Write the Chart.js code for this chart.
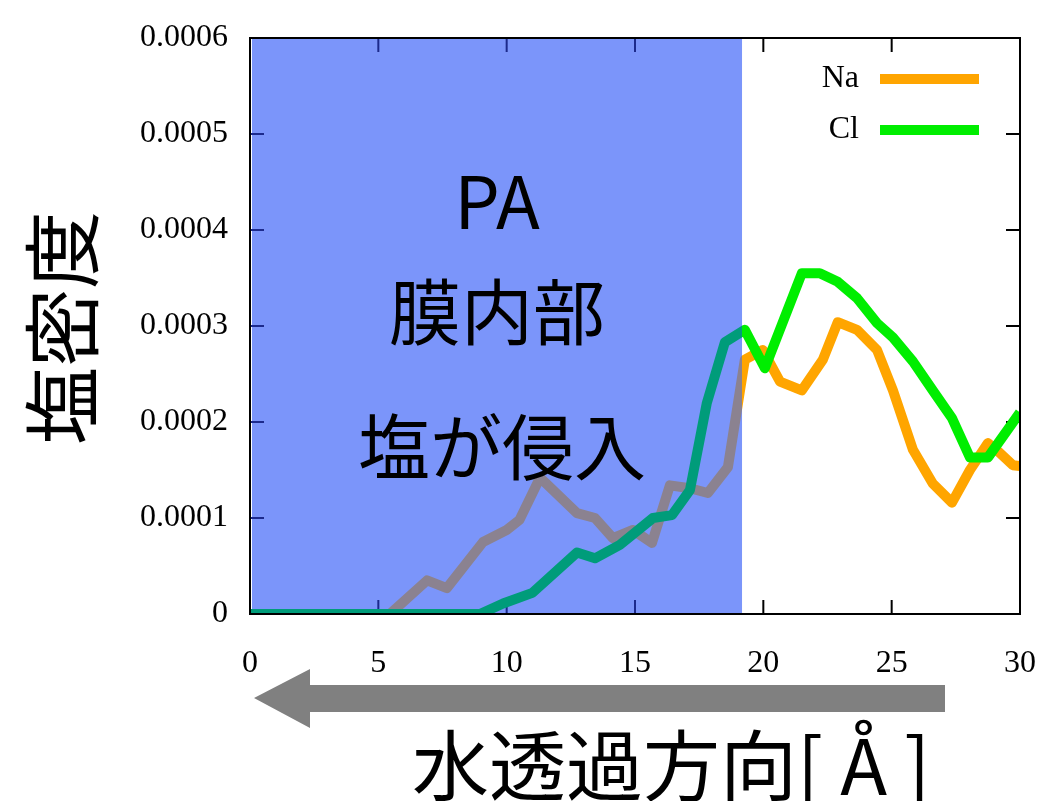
<!DOCTYPE html>
<html><head><meta charset="utf-8">
<script src="https://cdn.jsdelivr.net/npm/chart.js@4/dist/chart.umd.min.js"></script>
<style>html,body{margin:0;padding:0;background:#fff}#wrap{width:1042px;height:801px;position:relative}</style>
</head><body><div id="wrap"><canvas id="c"></canvas></div>
<script>
// ---- data ----
const seriesLabels = ['Na', 'Cl'];
const naX = [0, 5.45, 6.9, 7.67, 9.08, 10.0, 10.5, 11.3, 12.74, 13.44, 14.14, 14.92, 15.66, 16.36, 17.14, 17.84, 18.62, 19.28, 19.98, 20.65, 21.5, 22.32, 22.9, 23.65, 24.43, 25.05, 25.83, 26.6, 27.35, 28.05, 28.75, 29.2, 29.72, 30];
const naY = [0, 0, 0.000035, 0.000027, 0.000075, 0.0000875, 0.000098, 0.000142, 0.000105, 0.0001, 0.000079, 0.0000875, 0.000074, 0.000134, 0.000131, 0.000126, 0.000153, 0.000265, 0.000275, 0.000242, 0.000233, 0.000265, 0.000304, 0.000296, 0.000275, 0.000233, 0.000171, 0.000136, 0.000116, 0.00015, 0.000178, 0.000168, 0.000155, 0.000154];
const clX = [0, 8.96, 9.86, 11.0, 12.74, 13.44, 14.41, 15.7, 16.44, 17.14, 17.8, 18.5, 19.28, 20.06, 21.5, 22.2, 22.9, 23.65, 24.43, 25.05, 25.83, 26.6, 27.35, 28.05, 28.75, 30];
const clY = [0, 0, 0.000011, 0.000022, 0.000064, 0.000058, 0.000072, 0.0001, 0.000103, 0.000129, 0.00022, 0.000283, 0.000296, 0.000256, 0.000355, 0.000355, 0.000346, 0.000329, 0.000303, 0.000288, 0.000263, 0.000233, 0.000204, 0.000163, 0.000163, 0.00021];
const xTickValues = [0, 5, 10, 15, 20, 25, 30];
const xTickLabels = ['0', '5', '10', '15', '20', '25', '30'];
const yTickValues = [0, 0.0001, 0.0002, 0.0003, 0.0004, 0.0005, 0.0006];
const yTickLabels = ['0', '0.0001', '0.0002', '0.0003', '0.0004', '0.0005', '0.0006'];
const membraneEnd = 19.17;
const annotationLines = ['PA', '膜内部', '塩が侵入'];
const yTitle = '塩密度';
const xTitle = '水透過方向[ Å ]';

const SERIF = '"Liberation Serif","DejaVu Serif",serif';
const CJK = '"Noto Sans CJK JP","Noto Sans",sans-serif';
const colors = ['#ffa500', '#00ee00'];
const shadedColors = ['#8b8290', '#009c7a'];
const membraneFill = '#7b95fa';
const shadedTick = '#1c2a8c';

const toPts = (xs, ys) => xs.map((x, i) => ({x: x, y: ys[i]}));

function splitColor(chart, inside, outside) {
  const ca = chart.chartArea;
  const xs = chart.scales.x;
  if (!ca || !xs) return outside;
  const xe = xs.getPixelForValue(membraneEnd);
  const g = chart.ctx.createLinearGradient(0, 0, chart.width, 0);
  const f = Math.min(Math.max(xe / chart.width, 0), 1);
  g.addColorStop(0, inside); g.addColorStop(f, inside);
  g.addColorStop(f, outside); g.addColorStop(1, outside);
  return g;
}

const decor = {
  id: 'decor',
  beforeDatasetsDraw(chart) {
    const ctx = chart.ctx, ca = chart.chartArea, xs = chart.scales.x, ys = chart.scales.y;
    const xe = xs.getPixelForValue(membraneEnd);
    ctx.save();
    ctx.fillStyle = membraneFill;
    ctx.fillRect(ca.left + 2, ca.top, xe - ca.left - 2, ca.bottom - ca.top);
    ctx.lineWidth = 2;
    const ln = (a, b, c, d, col) => { ctx.strokeStyle = col; ctx.beginPath(); ctx.moveTo(a, b); ctx.lineTo(c, d); ctx.stroke(); };
    xTickValues.forEach(v => { const p = xs.getPixelForValue(v); const col = p < xe ? shadedTick : '#000';
      ln(p, ca.bottom, p, ca.bottom - 14, col); ln(p, ca.top, p, ca.top + 14, col); });
    yTickValues.forEach(v => { const p = ys.getPixelForValue(v); ln(ca.left, p, ca.left + 14, p, shadedTick); ln(ca.right, p, ca.right - 14, p, '#000'); });
    ctx.restore();
  },
  afterDatasetsDraw(chart) {
    const ctx = chart.ctx, ca = chart.chartArea;
    ctx.save();
    ctx.strokeStyle = '#000'; ctx.lineWidth = 2;
    ctx.strokeRect(ca.left, ca.top, ca.right - ca.left, ca.bottom - ca.top);
    ctx.restore();
  },
  afterDraw(chart) {
    const ctx = chart.ctx;
    ctx.save();
    ctx.fillStyle = '#000';
    ctx.textAlign = 'center';
    ctx.font = '72px ' + CJK;
    ctx.textBaseline = 'alphabetic';
    ctx.fillText(annotationLines[0], 497, 229);
    ctx.textBaseline = 'middle';
    ctx.fillText(annotationLines[1], 497, 312);
    ctx.fillText(annotationLines[2], 502, 447);
    // legend
    ctx.font = '32px ' + SERIF;
    ctx.textAlign = 'right';
    const ly = [79, 130];
    chart.data.datasets.forEach((ds, i) => {
      ctx.fillStyle = '#000';
      ctx.fillText(ds.label, 859, ly[i]);
      ctx.strokeStyle = colors[i]; ctx.lineWidth = 10;
      ctx.beginPath(); ctx.moveTo(880, ly[i]); ctx.lineTo(979, ly[i]); ctx.stroke();
    });
    // y title
    ctx.fillStyle = '#000';
    ctx.font = '78px ' + CJK;
    ctx.textAlign = 'center'; ctx.textBaseline = 'middle';
    ctx.save(); ctx.translate(62, 328); ctx.rotate(-Math.PI / 2); ctx.fillText(yTitle, 0, 0); ctx.restore();
    // arrow
    ctx.fillStyle = '#808080';
    ctx.beginPath();
    ctx.moveTo(945, 685); ctx.lineTo(310, 685); ctx.lineTo(310, 669); ctx.lineTo(254, 698);
    ctx.lineTo(310, 728); ctx.lineTo(310, 712); ctx.lineTo(945, 712); ctx.closePath(); ctx.fill();
    // x title
    ctx.fillStyle = '#000';
    ctx.font = '77px ' + CJK;
    ctx.textAlign = 'left'; ctx.textBaseline = 'middle';
    ctx.fillText(xTitle, 412, 766);
    ctx.restore();
  }
};

function build() {
  new Chart(document.getElementById('c'), {
    type: 'line',
    data: {
      datasets: [
        {label: seriesLabels[0], data: toPts(naX, naY), borderColor: c => splitColor(c.chart, shadedColors[0], colors[0]), borderWidth: 10, pointRadius: 0, fill: false, tension: 0, borderJoinStyle: 'round', order: 2},
        {label: seriesLabels[1], data: toPts(clX, clY), borderColor: c => splitColor(c.chart, shadedColors[1], colors[1]), borderWidth: 10, pointRadius: 0, fill: false, tension: 0, borderJoinStyle: 'round', order: 1}
      ]
    },
    options: {
      responsive: true, maintainAspectRatio: false, animation: false,
      layout: {padding: {top: 38, right: 22, bottom: 0, left: 0}},
      plugins: {legend: {display: false}, tooltip: {enabled: false}},
      scales: {
        x: {
          type: 'linear', min: 0, max: 30,
          afterBuildTicks: s => { s.ticks = xTickValues.map(v => ({value: v})); },
          afterFit: s => { s.height = 187; s.paddingLeft = 0; s.paddingRight = 0; },
          grid: {display: false, drawTicks: false}, border: {display: false},
          ticks: {color: '#000', font: {family: SERIF, size: 32}, padding: 30, maxRotation: 0,
            callback: (v) => { const i = xTickValues.indexOf(v); return i >= 0 ? xTickLabels[i] : ''; }}
        },
        y: {
          type: 'linear', min: 0, max: 0.0006,
          afterBuildTicks: s => { s.ticks = yTickValues.map(v => ({value: v})); },
          afterFit: s => { s.width = 250; s.paddingTop = 0; s.paddingBottom = 0; },
          grid: {display: false, drawTicks: false}, border: {display: false},
          ticks: {color: '#000', font: {family: SERIF, size: 32}, padding: 22,
            callback: (v) => { const i = yTickValues.findIndex(t => Math.abs(t - v) < 1e-9); return i >= 0 ? yTickLabels[i] : ''; }}
        }
      }
    },
    plugins: [decor]
  });
}
Promise.all([document.fonts.load('72px "Noto Sans CJK JP"', '塩密度水透過方向膜内部が侵入PA'), document.fonts.load('32px "Liberation Serif"', '0.123')]).then(build, build);
</script></body></html>
